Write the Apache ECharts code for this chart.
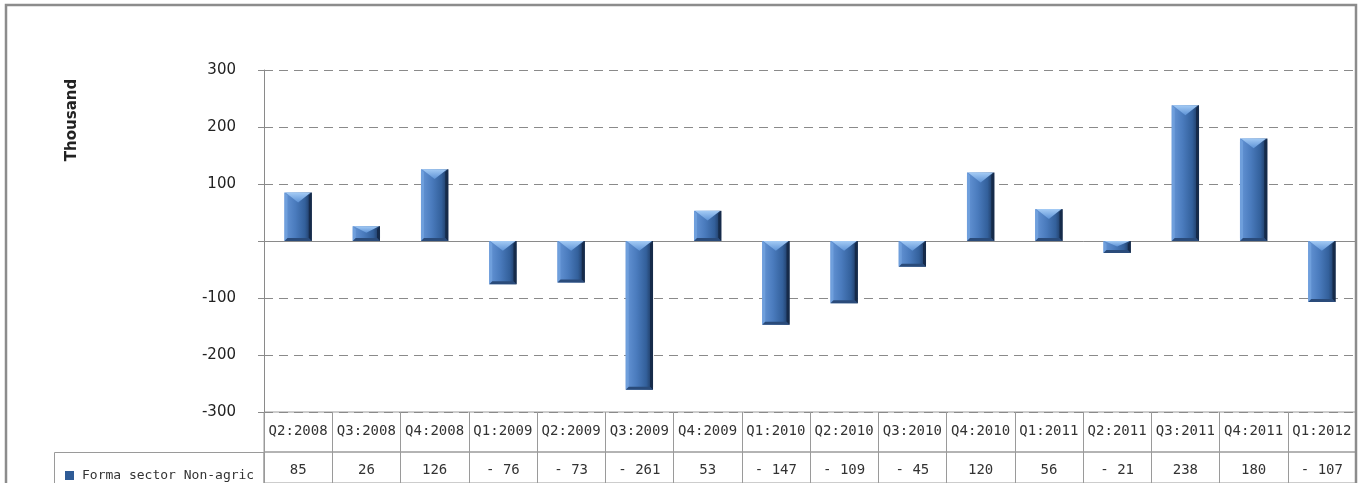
<!DOCTYPE html>
<html>
<head>
<meta charset="utf-8">
<script src="https://cdn.jsdelivr.net/npm/echarts@6/dist/echarts.min.js"></script>
<style>
html, body { margin: 0; padding: 0; background: #fff; }
#chart { width: 1370px; height: 483px; }
</style>
</head>
<body>
<div id="chart"></div>
<script>
var categories = ['Q2:2008', 'Q3:2008', 'Q4:2008', 'Q1:2009', 'Q2:2009', 'Q3:2009', 'Q4:2009', 'Q1:2010',
	'Q2:2010', 'Q3:2010', 'Q4:2010', 'Q1:2011', 'Q2:2011', 'Q3:2011', 'Q4:2011', 'Q1:2012'];
var values = [85, 26, 126, -76, -73, -261, 53, -147, -109, -45, 120, 56, -21, 238, 180, -107];
var seriesName = 'Forma sector Non-agric';
var yTicks = [-300, -200, -100, 0, 100, 200, 300];

var tableFont = 'DejaVu Sans Mono';
var gridLeft = 264, gridRight = 14;

// table value text, excel style "- 76"
function fmt(v) {
	return v < 0 ? '- ' + Math.abs(v) : String(v);
}

var barData = [];
for (var i = 0; i < values.length; i++) {
	barData.push([i, values[i]]);
}

function renderBar(params, api) {
	var i = api.value(0), v = api.value(1);
	var p = api.coord([i, v]);
	var b = api.coord([i, 0]);
	var w = api.size([1, 0])[0] * 0.4;
	var x0 = p[0] - w / 2, x1 = p[0] + w / 2, cx = p[0];
	var top = Math.min(p[1], b[1]), bot = Math.max(p[1], b[1]);
	var h = bot - top;
	var e = Math.min(3, h / 4);
	var tip = Math.min(w * 0.36, h * 0.45);
	return {
		type: 'group',
		children: [
			{ type: 'rect', shape: { x: x0, y: top, width: w, height: h },
				style: { fill: new echarts.graphic.LinearGradient(0, 0, 1, 0, [
					{ offset: 0, color: '#6595d6' },
					{ offset: 0.4, color: '#4a7bbd' },
					{ offset: 0.75, color: '#33609b' },
					{ offset: 1, color: '#1a3256' }]) } },
			{ type: 'polygon', shape: { points: [[x0, top], [x0 + e, top + e], [x0 + e, bot - e], [x0, bot]] },
				style: { fill: '#6f9fdc' } },
			{ type: 'polygon', shape: { points: [[x1, top], [x1 - e, top + e], [x1 - e, bot - e], [x1, bot]] },
				style: { fill: '#162b4a' } },
			{ type: 'polygon', shape: { points: [[x0, bot], [x1, bot], [x1 - e, bot - e], [x0 + e, bot - e]] },
				style: { fill: '#2a4b7a' } },
			{ type: 'polygon', shape: { points: [[x0 + 1, top], [x1 - 1, top], [cx, top + tip]] },
				style: { fill: new echarts.graphic.LinearGradient(0, 0, 0, 1, [
					{ offset: 0, color: '#a4cbf5' },
					{ offset: 1, color: '#5e93d6' }]) } }
		]
	};
}

var myChart = echarts.init(document.getElementById('chart'));

var option = {
	animation: false,
	backgroundColor: '#fff',
	legend: {
		data: [seriesName],
		left: 60,
		top: 464,
		icon: 'rect',
		itemWidth: 9,
		itemHeight: 9,
		itemGap: 6,
		selectedMode: false,
		textStyle: { fontFamily: tableFont, fontSize: 13, color: '#333', padding: [0, 0, 0, 3] }
	},
	grid: [
		{ left: gridLeft, right: gridRight, top: 70, height: 342 },
		{ left: gridLeft, right: gridRight, top: 412, height: 40, show: true, borderColor: '#9a9a9a', borderWidth: 1 },
		{ left: gridLeft, right: gridRight, top: 452, height: 40, show: true, borderColor: '#9a9a9a', borderWidth: 1 }
	],
	xAxis: [
		{
			type: 'category', gridIndex: 0, data: categories,
			axisLine: { onZero: true, lineStyle: { color: '#8a8a8a', width: 1 } },
			axisTick: { show: false },
			axisLabel: { show: false },
			splitLine: { show: false }
		},
		{
			type: 'category', gridIndex: 1, data: categories, position: 'top',
			axisLine: { show: false },
			axisTick: { show: false },
			splitLine: { show: true, lineStyle: { color: '#9a9a9a', width: 1 } },
			axisLabel: { inside: true, margin: 12, fontFamily: tableFont, fontSize: 14, color: '#333', interval: 0 }
		},
		{
			type: 'category', gridIndex: 2, data: categories, position: 'top',
			axisLine: { show: false },
			axisTick: { show: false },
			splitLine: { show: true, lineStyle: { color: '#9a9a9a', width: 1 } },
			axisLabel: {
				inside: true, margin: 11, fontFamily: tableFont, fontSize: 14, color: '#333', interval: 0,
				formatter: function(val, idx) { return fmt(values[idx]); }
			}
		}
	],
	yAxis: [
		{
			type: 'value', gridIndex: 0,
			min: yTicks[0], max: yTicks[yTicks.length - 1], interval: 100,
			axisLine: { show: true, lineStyle: { color: '#8a8a8a', width: 1 } },
			axisTick: { show: true, length: 6, lineStyle: { color: '#8a8a8a' } },
			axisLabel: {
				margin: 28, fontFamily: 'DejaVu Sans', fontSize: 15, color: '#222',
				formatter: function(v) { return v === 0 ? '' : String(v); }
			},
			splitLine: { show: true, lineStyle: { color: '#8a8a8a', type: [9, 6], width: 1 } }
		},
		{ type: 'value', gridIndex: 1, show: false, splitLine: { show: false } },
		{ type: 'value', gridIndex: 2, show: false, splitLine: { show: false } }
	],
	graphic: [
		{ type: 'rect', shape: { x: 6, y: 5, width: 1350, height: 495 },
			style: { fill: null, stroke: '#8c8c8c', lineWidth: 2.5 }, silent: true, z: 100 },
		{ type: 'rect', shape: { x: 54.5, y: 452.5, width: 209.5, height: 40 },
			style: { fill: null, stroke: '#9a9a9a', lineWidth: 1 }, silent: true },
		{ type: 'text', x: 72, y: 120, rotation: Math.PI / 2,
			style: { text: 'Thousand', fontFamily: 'DejaVu Sans', fontWeight: 'bold', fontSize: 15,
				fill: '#222', textAlign: 'center', textVerticalAlign: 'middle' } }
	],
	series: [{
		name: seriesName,
		type: 'custom',
		xAxisIndex: 0,
		yAxisIndex: 0,
		data: barData,
		encode: { x: 0, y: 1 },
		itemStyle: { color: '#2f5b96' },
		renderItem: renderBar
	}]
};

myChart.setOption(option);
</script>
</body>
</html>
